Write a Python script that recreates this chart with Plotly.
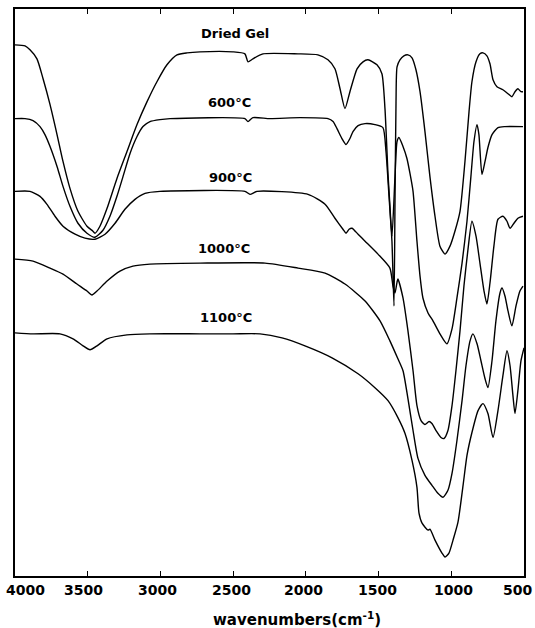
import plotly.graph_objects as go

# FTIR transmittance spectra (offset, arbitrary units) of the gel and its calcined products
wn_dried = [4000, 3931, 3897, 3849, 3807, 3759, 3711, 3670, 3622, 3567,
            3505, 3464, 3450, 3416, 3367, 3299, 3230, 3161, 3092, 3024,
            2955, 2886, 2817, 2728, 2501, 2419, 2398, 2364, 2295, 2054,
            1917, 1848, 1800, 1765, 1731, 1697, 1648, 1607, 1573, 1511,
            1477, 1456, 1435, 1408, 1394, 1387, 1380, 1373, 1353, 1326,
            1298, 1270, 1243, 1215, 1181, 1147, 1112, 1078, 1043, 1009,
            975, 940, 906, 878, 858, 830, 803, 782, 755, 734,
            713, 686, 645, 610, 583, 562, 542, 521, 507]
t_dried = [533, 532, 528, 519, 499, 473, 443, 416, 389, 366,
           351, 346, 344, 351, 369, 399, 426, 453, 476, 496,
           513, 523, 525, 526, 526, 524, 516, 519, 524, 524,
           523, 518, 509, 489, 469, 486, 509, 516, 518, 513,
           504, 469, 403, 336, 271, 376, 476, 511, 518, 522,
           523, 520, 508, 486, 446, 401, 361, 331, 323, 331,
           346, 366, 416, 466, 496, 516, 524, 525, 522, 514,
           498, 491, 488, 484, 481, 486, 489, 486, 486]

wn_600 = [4000, 3931, 3876, 3828, 3794, 3759, 3711, 3670, 3622, 3567,
          3505, 3450, 3395, 3347, 3299, 3257, 3209, 3161, 3120, 3072,
          3003, 2934, 2419, 2398, 2364, 2247, 2040, 1848, 1813, 1786,
          1752, 1724, 1697, 1676, 1641, 1593, 1525, 1470, 1449, 1428,
          1408, 1387, 1373, 1360, 1332, 1305, 1284, 1263, 1236, 1215,
          1195, 1160, 1126, 1078, 1030, 995, 961, 926, 892, 865,
          844, 823, 810, 789, 768, 748, 720, 679, 631, 507]
t_600 = [459, 459, 457, 451, 443, 431, 411, 391, 371, 354,
         344, 340, 347, 361, 381, 401, 424, 441, 451, 456,
         458, 459, 459, 456, 460, 459, 460, 459, 456, 449,
         439, 433, 439, 446, 452, 454, 453, 450, 426, 381,
         341, 401, 436, 440, 431, 419, 404, 386, 336, 301,
         279, 264, 256, 243, 233, 248, 279, 314, 356, 401,
         436, 453, 443, 403, 416, 430, 443, 450, 451, 451]

wn_900 = [4000, 3897, 3828, 3780, 3725, 3670, 3587, 3519, 3450, 3381,
          3312, 3244, 3175, 3106, 3003, 2419, 2384, 2336, 1985, 1868,
          1800, 1745, 1724, 1703, 1683, 1641, 1593, 1504, 1422, 1401,
          1387, 1373, 1367, 1332, 1298, 1263, 1236, 1208, 1181, 1153,
          1133, 1105, 1071, 1050, 1023, 995, 968, 940, 913, 885,
          858, 830, 803, 775, 755, 734, 707, 679, 645, 617,
          596, 569, 542, 507]
t_900 = [386, 386, 381, 373, 361, 351, 343, 339, 338, 343,
         354, 368, 378, 384, 386, 386, 383, 386, 383, 373,
         359, 348, 344, 348, 349, 343, 336, 323, 309, 291,
         284, 295, 298, 279, 246, 206, 171, 156, 152, 155,
         153, 146, 139, 138, 146, 171, 206, 246, 291, 328,
         356, 341, 314, 286, 273, 294, 331, 358, 361, 356,
         349, 354, 359, 361]

wn_1000 = [4000, 3876, 3759, 3670, 3574, 3505, 3471, 3436, 3367, 3278,
           3189, 3072, 2728, 2281, 2054, 1868, 1731, 1593, 1490, 1422,
           1367, 1332, 1298, 1263, 1229, 1181, 1133, 1092, 1057, 1023,
           995, 961, 926, 899, 871, 851, 823, 796, 768, 748,
           720, 693, 665, 651, 631, 610, 583, 555, 528, 507]
t_1000 = [318, 316, 309, 303, 293, 286, 282, 286, 296, 306,
          311, 313, 314, 314, 309, 304, 293, 276, 256, 236,
          218, 206, 178, 146, 118, 101, 91, 83, 79, 86,
          103, 136, 176, 211, 236, 243, 233, 216, 198, 189,
          216, 256, 284, 289, 281, 266, 251, 271, 286, 291]

wn_1100 = [4000, 3876, 3691, 3601, 3532, 3484, 3436, 3367, 3230, 3072,
           2728, 2501, 2315, 2164, 2006, 1820, 1641, 1525, 1435, 1367,
           1318, 1270, 1236, 1222, 1201, 1160, 1147, 1112, 1064, 1043,
           1016, 988, 954, 919, 892, 858, 816, 782, 748, 713,
           679, 645, 617, 596, 576, 562, 542, 521, 500]
t_1100 = [244, 243, 243, 238, 231, 227, 231, 238, 242, 243,
          243, 243, 243, 239, 231, 219, 203, 189, 176, 159,
          143, 116, 89, 63, 53, 46, 47, 36, 23, 19,
          23, 36, 54, 91, 121, 144, 166, 173, 163, 139,
          166, 201, 226, 211, 181, 163, 186, 216, 229]

series = [
    ("Dried Gel", wn_dried, t_dried),
    ("600°C", wn_600, t_600),
    ("900°C", wn_900, t_900),
    ("1000°C", wn_1000, t_1000),
    ("1100°C", wn_1100, t_1100),
]

# where each curve's name is written
label_wn = [2487, 2522, 2515, 2563, 2549]
label_t = [544, 475, 400, 329, 259]

tick_vals = [4000, 3500, 3000, 2500, 2000, 1500, 1000, 500]
tick_text = ["4000", "3500", "3000", "2500", "2000", "1500", "1000", "500"]
tick_shift = [10, -4, -3, -2, -2, -1, 2, -7]

bold = dict(family="DejaVu Sans", color="black", weight="bold")

fig = go.Figure()
for name, wn, t in series:
    fig.add_trace(go.Scatter(
        x=wn, y=t, mode="lines", name=name, showlegend=False, hoverinfo="skip",
        line=dict(color="black", width=1.4, shape="spline", smoothing=0.6),
    ))

annotations = []
for (name, _, _), lx, ly in zip(series, label_wn, label_t):
    annotations.append(dict(
        x=lx, y=ly, xref="x", yref="y", text=name, showarrow=False,
        font=dict(size=13, **bold),
    ))
for v, txt, dx in zip(tick_vals, tick_text, tick_shift):
    annotations.append(dict(
        x=v, y=0, xref="x", yref="paper", yanchor="top", xshift=dx, yshift=-4,
        text=txt, showarrow=False, font=dict(size=14, **bold),
    ))
annotations.append(dict(
    x=0.554, y=0, xref="paper", yref="paper", yanchor="top", yshift=-31,
    text="wavenumbers(cm<sup>-1</sup>)", showarrow=False,
    font=dict(size=15, **bold),
))

fig.update_layout(
    width=535, height=628,
    margin=dict(l=15, r=11, t=7, b=52),
    paper_bgcolor="white", plot_bgcolor="white",
    annotations=annotations,
    xaxis=dict(
        range=[4000, 500], tickvals=tick_vals, showticklabels=False,
        ticks="inside", ticklen=5, tickwidth=1, tickcolor="black",
        showline=True, linecolor="black", linewidth=1.5, mirror="ticks",
        showgrid=False, zeroline=False,
    ),
    yaxis=dict(
        range=[0, 569], showticklabels=False, ticks="",
        showline=True, linecolor="black", linewidth=1.5, mirror=True,
        showgrid=False, zeroline=False,
    ),
)

fig.write_html("out.html")
